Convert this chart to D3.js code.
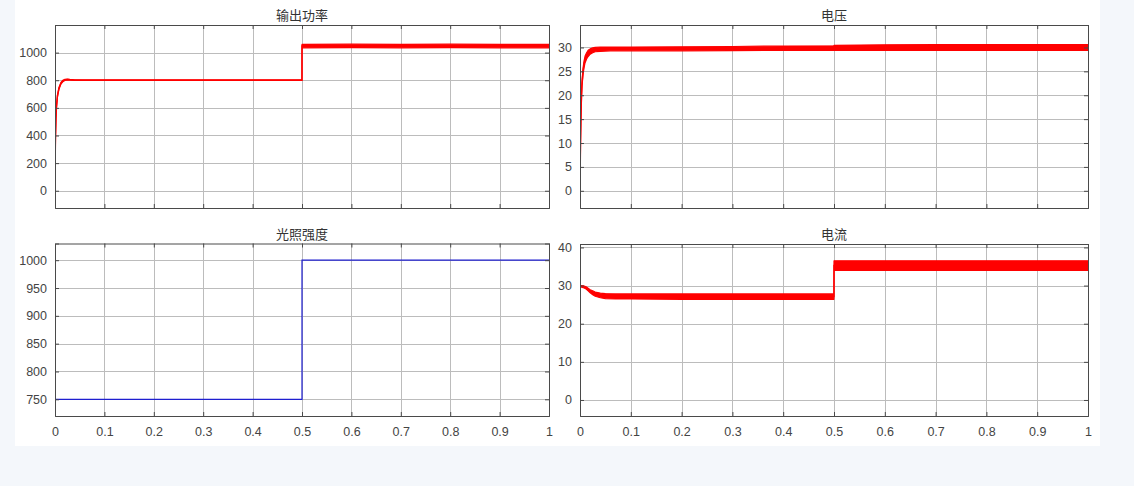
<!DOCTYPE html>
<html><head><meta charset="utf-8">
<script src="https://cdn.jsdelivr.net/npm/d3@7"></script>
<style>
html,body{margin:0;padding:0;background:#f4f7fb;}
svg{display:block;}
</style></head>
<body>
<svg id="c" width="1134" height="486"></svg>
<script>
// ---------- data ----------
const xTicks = [0,0.1,0.2,0.3,0.4,0.5,0.6,0.7,0.8,0.9,1];
const xTickLabels = ["0","0.1","0.2","0.3","0.4","0.5","0.6","0.7","0.8","0.9","1"];

const titles = ["输出功率","电压","光照强度","电流"];

// 输出功率 (power)
const powerT  = [0,0.0005,0.001,0.002,0.003,0.005,0.008,0.012,0.016,0.02,0.025,0.03,0.04,0.06,0.1,0.2,0.3,0.4,0.4999,0.5,0.6,0.7,0.8,0.9,1];
const powerLo = [0,250,380,520,600,680,735,772,790,798,802,801,799,798,798,798,798,798,798,1035,1036,1035,1036,1035,1035];
const powerHi = [0,260,395,535,615,695,748,784,800,806,808,806,803,802,802,802,802,802,802,1060,1061,1060,1061,1060,1060];
const powerTicks = [0,200,400,600,800,1000];

// 电压 (voltage)
const voltT  = [0,0.001,0.002,0.003,0.004,0.006,0.008,0.01,0.013,0.016,0.02,0.025,0.03,0.04,0.06,0.1,0.2,0.3,0.4,0.4999,0.5,0.6,0.7,0.8,0.9,1];
const voltLo = [0,9.5,15.5,19.5,22,24.3,25.8,26.8,27.6,28.1,28.6,28.9,29.1,29.2,29.3,29.3,29.3,29.35,29.4,29.4,29.4,29.4,29.4,29.4,29.4,29.4];
const voltHi = [0,10.5,16.5,20.5,23,25.7,27.2,28.2,28.9,29.4,29.7,29.9,30.0,30.1,30.1,30.1,30.15,30.2,30.3,30.35,30.45,30.55,30.6,30.6,30.6,30.6];
const voltTicks = [0,5,10,15,20,25,30];

// 光照强度 (irradiance)
const irrT = [0,0.5,0.5,1];
const irrV = [750,750,1000,1000];
const irrTicks = [750,800,850,900,950,1000];

// 电流 (current)
const curT  = [0,0.0005,0.003,0.008,0.012,0.016,0.02,0.025,0.03,0.04,0.05,0.07,0.1,0.2,0.3,0.4,0.4999,0.5,0.6,0.7,0.8,0.9,1];
const curLo = [0,29.6,29.6,29.4,29.1,28.6,28.1,27.6,27.2,26.8,26.6,26.5,26.5,26.4,26.4,26.4,26.4,34.0,34.0,34.0,34.0,34.0,34.0];
const curHi = [0,30.0,30.0,29.9,29.7,29.3,28.9,28.6,28.3,28.0,27.9,27.8,27.8,27.8,27.8,27.8,27.8,36.5,36.5,36.5,36.5,36.5,36.5];
const curTicks = [0,10,20,30,40];

// ---------- layout ----------
const svg = d3.select("#c");
svg.append("rect").attr("x",15).attr("y",0).attr("width",1085).attr("height",446).attr("fill","#ffffff");

const panels = [
  {title:titles[0], x0:55,  x1:549,  y0:25,    y1:208, dom:[-125,1200], ticks:powerTicks, xlab:false,
   band:{t:powerT, lo:powerLo, hi:powerHi}},
  {title:titles[1], x0:580, x1:1088, y0:25,    y1:208, dom:[-3.6,34.7], ticks:voltTicks, xlab:false,
   band:{t:voltT, lo:voltLo, hi:voltHi}},
  {title:titles[2], x0:55,  x1:549,  y0:243.5, y1:416, dom:[720,1030], ticks:irrTicks, xlab:true,
   line:{t:irrT, v:irrV}},
  {title:titles[3], x0:580, x1:1088, y0:244,   y1:416, dom:[-4.2,40.9], ticks:curTicks, xlab:true,
   band:{t:curT, lo:curLo, hi:curHi}}
];

const font = "'Liberation Sans', Arial, Helvetica, sans-serif";

panels.forEach((p,i) => {
  const x = d3.scaleLinear().domain([0,1]).range([p.x0,p.x1]);
  const y = d3.scaleLinear().domain(p.dom).range([p.y1,p.y0]);
  const g = svg.append("g");

  const clipId = "clip"+i;
  svg.append("clipPath").attr("id",clipId).append("rect")
    .attr("x",p.x0).attr("y",p.y0).attr("width",p.x1-p.x0).attr("height",p.y1-p.y0);

  // grid
  g.append("g").selectAll("line").data(xTicks.slice(1,-1)).join("line")
    .attr("x1",d=>Math.round(x(d))+0.5).attr("x2",d=>Math.round(x(d))+0.5)
    .attr("y1",p.y0).attr("y2",p.y1).attr("stroke","#bcbcbc").attr("stroke-width",1);
  g.append("g").selectAll("line").data(p.ticks).join("line")
    .attr("y1",d=>Math.round(y(d))+0.5).attr("y2",d=>Math.round(y(d))+0.5)
    .attr("x1",p.x0).attr("x2",p.x1).attr("stroke","#bcbcbc").attr("stroke-width",1);

  // data
  const dg = g.append("g").attr("clip-path",`url(#${clipId})`);
  if (p.band) {
    const pts = p.band.t.map((t,k)=>({t, lo:p.band.lo[k], hi:p.band.hi[k]}));
    const area = d3.area().x(d=>x(d.t)).y0(d=>y(d.lo)).y1(d=>y(d.hi));
    dg.append("path").attr("d",area(pts)).attr("fill","#ff0000")
      .attr("stroke","#ff0000").attr("stroke-width",1.2).attr("stroke-linejoin","round");
    const mid = d3.line().x(d=>x(d.t)).y(d=>y((d.lo+d.hi)/2));
    dg.append("path").attr("d",mid(pts)).attr("fill","none").attr("stroke","#ff0000").attr("stroke-width",1.4);
  }
  if (p.line) {
    const pts = p.line.t.map((t,k)=>({t, v:p.line.v[k]}));
    const ln = d3.line().x(d=>x(d.t)).y(d=>y(d.v));
    dg.append("path").attr("d",ln(pts)).attr("fill","none").attr("stroke","#1f1fd0").attr("stroke-width",1.2);
  }

  // axes with inward ticks (MATLAB style)
  const axL = d3.axisLeft(y).tickValues(p.ticks).tickSize(-4).tickPadding(8).tickFormat(d3.format("d"));
  const axR = d3.axisRight(y).tickValues(p.ticks).tickSize(-4).tickFormat("");
  const axB = d3.axisBottom(x).tickValues(xTicks).tickSize(-4).tickPadding(11)
    .tickFormat((d,k)=> p.xlab ? xTickLabels[k] : "");
  const axT = d3.axisTop(x).tickValues(xTicks).tickSize(-4).tickFormat("");

  const styleAx = sel => {
    sel.select(".domain").attr("stroke","#4a4a4a");
    sel.selectAll(".tick line").attr("stroke","#4a4a4a");
    sel.selectAll("text").attr("fill","#444").style("font-family",font).style("font-size","12.5px");
  };
  g.append("g").attr("transform",`translate(${p.x0},0)`).call(axL).call(styleAx);
  g.append("g").attr("transform",`translate(${p.x1},0)`).call(axR).call(styleAx);
  g.append("g").attr("transform",`translate(0,${p.y1})`).call(axB).call(styleAx);
  g.append("g").attr("transform",`translate(0,${p.y0})`).call(axT).call(styleAx);

  // title
  g.append("text").attr("x",(p.x0+p.x1)/2).attr("y",p.y0-5)
    .attr("text-anchor","middle").attr("fill","#333")
    .style("font-family","'Noto Sans CJK SC', sans-serif").style("font-size","13px")
    .text(p.title);
});
</script>
</body></html>
